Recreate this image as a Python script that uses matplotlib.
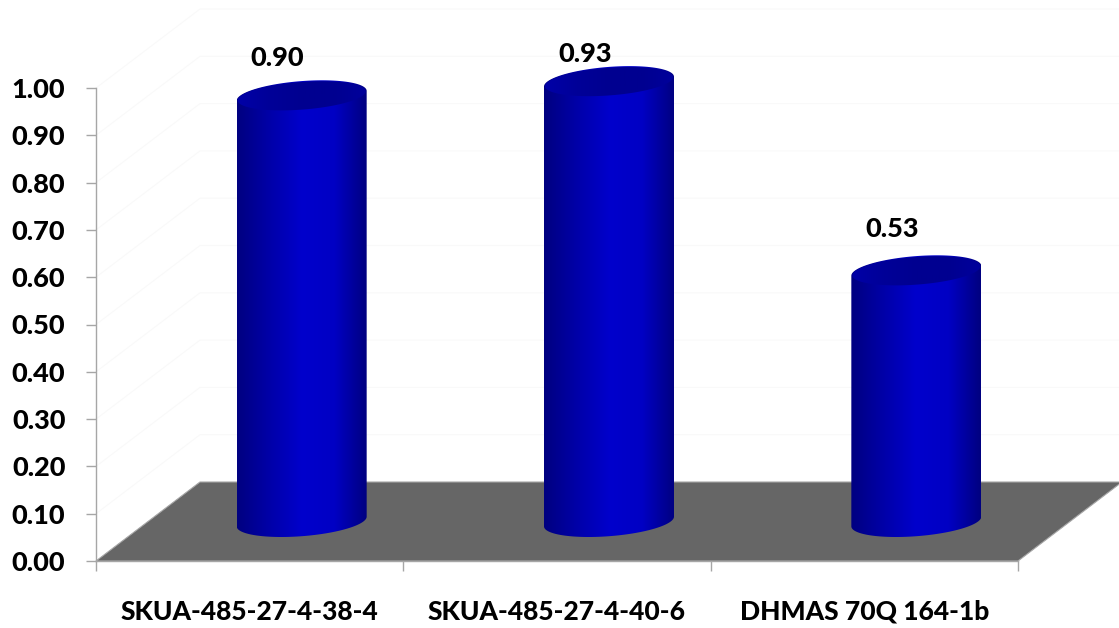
import numpy as np
import matplotlib
matplotlib.use('Agg')
import matplotlib.pyplot as plt
from matplotlib.colors import LinearSegmentedColormap
from matplotlib.patches import Polygon

categories = ['SKUA-485-27-4-38-4', 'SKUA-485-27-4-40-6', 'DHMAS 70Q 164-1b']
values = [0.90, 0.93, 0.53]
y_ticks = [0.00, 0.10, 0.20, 0.30, 0.40, 0.50, 0.60, 0.70, 0.80, 0.90, 1.00]

W, H = 1119, 628
PLOT_LEFT, PLOT_RIGHT, PLOT_TOP, PLOT_BOTTOM = 96, 1018, 88, 561

# oblique depth of the 3D box, in pixels
DEPTH_X, DEPTH_Y = 104, 79

plt.rcParams['font.family'] = ['Lato', 'DejaVu Sans']

body_cmap = LinearSegmentedColormap.from_list('body', ['#000080', '#0000a8', '#0000cc', '#0000c4', '#000080'])
cap_cmap = LinearSegmentedColormap.from_list('cap', ['#0000a8', '#000098', '#000090', '#000090', '#00009c'])


def ring(cx, cy, sx, sy, t):
    """Sheared ellipse of a circular section, given in axes data units."""
    x = cx + (sx[0] * np.cos(t) + sx[1] * np.sin(t))
    y = cy + sy * np.sin(t)
    return x, y


def gradient(ax, patch, cmap, x0, x1, y0, y1, zorder):
    ax.add_patch(patch)
    im = ax.imshow(np.linspace(0, 1, 256).reshape(1, -1), extent=(x0, x1, y0, y1),
                   cmap=cmap, aspect='auto', zorder=zorder)
    im.set_clip_path(patch)
    im.set_clip_box(ax.figure.bbox)


fig = plt.figure(figsize=(W / 100, H / 100), dpi=100)
ax = fig.add_axes([PLOT_LEFT / W, 1 - PLOT_BOTTOM / H,
                   (PLOT_RIGHT - PLOT_LEFT) / W, (PLOT_BOTTOM - PLOT_TOP) / H])

n = len(categories)
x_per_px = n / (PLOT_RIGHT - PLOT_LEFT)
y_per_px = 1.0 / (PLOT_BOTTOM - PLOT_TOP)
dx = DEPTH_X * x_per_px
dy = DEPTH_Y * y_per_px

# floor
ax.add_patch(Polygon([(0, 0), (n, 0), (n + dx, dy), (dx, dy)], closed=True, facecolor='#666666',
                     edgecolor='#a6a6a6', linewidth=0.8, clip_on=False, zorder=1))

# faint gridlines on the side and back walls
for tick in y_ticks[1:]:
    ax.plot([0, dx, n + dx], [tick, tick + dy, tick + dy], color='#f9f9f9', linewidth=0.8,
            clip_on=False, zorder=0.5)

# cylinders
half_width = 65 * x_per_px
cap_y = 15.5 * y_per_px
cap_x = cap_y / dy * dx
run_x = np.sqrt(half_width ** 2 - cap_x ** 2)
t_edge = np.arctan2(cap_x, run_x)
t_front = np.linspace(t_edge + np.pi, t_edge + 2 * np.pi, 100)
t_back = np.linspace(t_edge, t_edge + np.pi, 100)
t_all = np.linspace(0, 2 * np.pi, 200)

# labels were placed by hand on the slide, so each gets its own lift (px)
label_lift = [38, 28, 42]

for i, value in enumerate(values):
    cx = i + 0.5 + dx / 2
    base_y = dy / 2
    top_y = base_y + value

    # body runs up to the back arc so the cap keeps a lighter rim
    bx, by = ring(cx, base_y, (run_x, cap_x), cap_y, t_front)
    tx, ty = ring(cx, top_y, (run_x, cap_x), cap_y, t_back)
    body = Polygon(np.column_stack([np.r_[bx, tx], np.r_[by, ty]]), closed=True,
                   facecolor='none', edgecolor='none')
    gradient(ax, body, body_cmap, cx - half_width, cx + half_width, -0.1, 1.3, 3)

    ex, ey = ring(cx, top_y, (run_x * 0.985, cap_x * 0.985), cap_y * 0.94, t_all)
    cap = Polygon(np.column_stack([ex, ey]), closed=True, facecolor='none', edgecolor='none')
    gradient(ax, cap, cap_cmap, cx - half_width, cx + half_width, -0.1, 1.3, 4)

    ax.annotate(f'{value:.2f}', (cx, top_y), xytext=(-24 * 0.72, label_lift[i] * 0.72),
                textcoords='offset points', ha='center', va='center', fontsize=19.5,
                fontweight='black', color='black', annotation_clip=False, zorder=5)

ax.set_xlim(0, n)
ax.set_ylim(0, 1)

for side in ['top', 'right']:
    ax.spines[side].set_visible(False)
for side in ['left', 'bottom']:
    ax.spines[side].set_color('#a6a6a6')
    ax.spines[side].set_linewidth(1.0)
    ax.spines[side].set_zorder(2)
ax.patch.set_visible(False)

ax.set_yticks(y_ticks)
ax.set_yticklabels([f'{t:.2f}' for t in y_ticks], fontsize=19.5, fontweight='black')
ax.tick_params(axis='y', length=7, width=1.0, color='#a6a6a6', pad=15)

ax.set_xticks(np.arange(n + 1))
ax.set_xticklabels([])
ax.tick_params(axis='x', which='major', length=7, width=1.0, color='#a6a6a6')
ax.set_xticks(np.arange(n) + 0.5, minor=True)
ax.set_xticklabels(categories, minor=True, fontsize=19, fontweight='black')
ax.tick_params(axis='x', which='minor', length=0, pad=28)

fig.savefig('out.png', dpi=100)
